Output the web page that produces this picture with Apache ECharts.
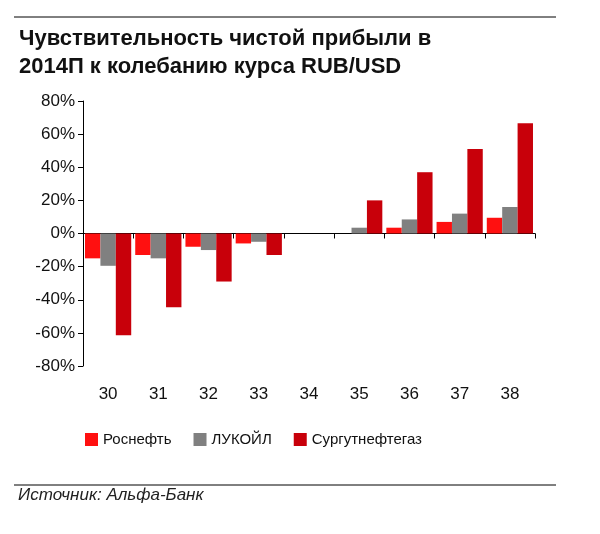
<!DOCTYPE html>
<html>
<head>
<meta charset="utf-8">
<script src="https://cdn.jsdelivr.net/npm/echarts@6/dist/echarts.min.js"></script>
<style>html,body{margin:0;padding:0;background:#fff}#chart{width:600px;height:534px}</style>
</head>
<body>
<div id="chart"></div>
<script>
// курс RUB/USD
let categories = ['30', '31', '32', '33', '34', '35', '36', '37', '38'];
let rosneft = [-15, -13, -8, -6, 0, 0, 3.5, 7, 9.5];
let lukoil = [-19.5, -15, -10, -5, 0, 3.5, 8.5, 12, 16];
let surgut = [-61.5, -44.5, -29, -13, 0, 20, 37, 51, 66.5];

let chart = echarts.init(document.getElementById('chart'));
let font = 'Liberation Sans, Arial, sans-serif';
let option = {
    animation: false,
    title: {
        text: 'Чувствительность чистой прибыли в\n2014П к колебанию курса RUB/USD',
        left: 14,
        top: 20,
        textStyle: {fontFamily: font, fontSize: 22, fontWeight: 'bold', color: '#111', lineHeight: 28}
    },
    legend: {
        bottom: 82,
        left: 80,
        itemWidth: 13,
        itemHeight: 13,
        itemGap: 22,
        icon: 'rect',
        textStyle: {fontFamily: font, fontSize: 15, color: '#111'},
        data: ['Роснефть', 'ЛУКОЙЛ', 'Сургутнефтегаз']
    },
    grid: {left: 83, right: 65, top: 101, height: 265},
    xAxis: [
        {
            type: 'category',
            data: categories,
            axisLine: {onZero: true, lineStyle: {color: '#000'}},
            axisTick: {show: true, length: 5, inside: false, lineStyle: {color: '#000'}},
            axisLabel: {show: false}
        },
        {
            type: 'category',
            data: categories,
            position: 'bottom',
            axisLine: {show: false},
            axisTick: {show: false},
            axisLabel: {fontFamily: font, fontSize: 17, color: '#111', margin: 20}
        }
    ],
    yAxis: {
        type: 'value',
        min: -80,
        max: 80,
        interval: 20,
        axisLine: {show: true, lineStyle: {color: '#000'}},
        axisTick: {show: true, length: 5, lineStyle: {color: '#000'}},
        splitLine: {show: false},
        axisLabel: {formatter: '{value}%', fontFamily: font, fontSize: 17, color: '#111', margin: 8}
    },
    series: [
        {name: 'Роснефть', type: 'bar', data: rosneft, barGap: '0%', barCategoryGap: '8%',
            itemStyle: {color: '#ff1010'}},
        {name: 'ЛУКОЙЛ', type: 'bar', data: lukoil,
            itemStyle: {color: '#808080'}},
        {name: 'Сургутнефтегаз', type: 'bar', data: surgut,
            itemStyle: {color: '#c8000a'}}
    ],
    graphic: [
        {type: 'line', shape: {x1: 14, y1: 17, x2: 556, y2: 17}, style: {stroke: '#000', lineWidth: 1}},
        {type: 'line', shape: {x1: 14, y1: 485, x2: 556, y2: 485}, style: {stroke: '#000', lineWidth: 1}},
        {type: 'text', left: 18, top: 487,
            style: {text: 'Источник: Альфа-Банк', fontFamily: font, fontSize: 17, fontStyle: 'italic', fill: '#222'}}
    ]
};
chart.setOption(option);
</script>
</body>
</html>
